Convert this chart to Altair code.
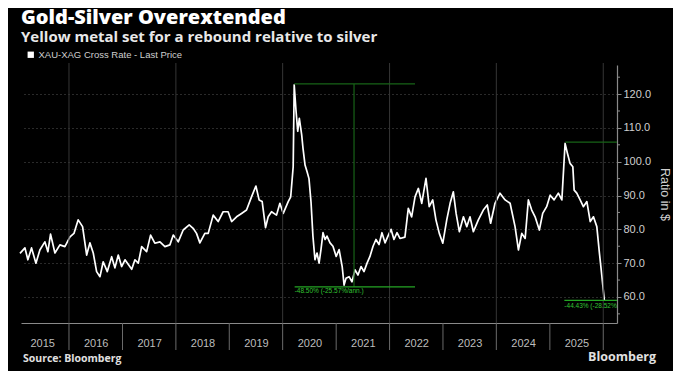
import altair as alt
import pandas as pd

# ---------------- data ----------------
dates = [
    "2015-01-31", "2015-03-06", "2015-03-26", "2015-04-20", "2015-05-20", "2015-06-16", "2015-07-20",
    "2015-08-10", "2015-08-28", "2015-09-27", "2015-10-31", "2015-12-04",
    "2016-01-08", "2016-02-04", "2016-03-04", "2016-04-03", "2016-05-01", "2016-05-23", "2016-06-15",
    "2016-07-08", "2016-07-31", "2016-08-22", "2016-09-19", "2016-10-19", "2016-11-10", "2016-12-03",
    "2016-12-26",
    "2017-01-18", "2017-03-05", "2017-03-27", "2017-04-19", "2017-05-12", "2017-06-15", "2017-07-12",
    "2017-08-10", "2017-09-14", "2017-10-18", "2017-11-21", "2017-12-14",
    "2018-01-17", "2018-02-20", "2018-04-02", "2018-04-29", "2018-05-22", "2018-06-14", "2018-07-18",
    "2018-08-10", "2018-09-13", "2018-10-17", "2018-11-20", "2018-12-24",
    "2019-01-17", "2019-02-20", "2019-03-26", "2019-04-29", "2019-06-02", "2019-07-02", "2019-07-24",
    "2019-08-14", "2019-09-06", "2019-09-24", "2019-10-17", "2019-11-20", "2019-12-13",
    "2020-01-05", "2020-02-08", "2020-02-25", "2020-03-13", "2020-03-20", "2020-04-01", "2020-04-13",
    "2020-04-24", "2020-05-10", "2020-05-19", "2020-06-02", "2020-06-16", "2020-06-29", "2020-07-13",
    "2020-07-26", "2020-08-09", "2020-08-23", "2020-09-06", "2020-09-19", "2020-10-03", "2020-10-17",
    "2020-10-30", "2020-11-20", "2020-12-10",
    "2021-01-01", "2021-01-21", "2021-02-11", "2021-02-24", "2021-03-09", "2021-03-30", "2021-04-19",
    "2021-05-10", "2021-05-30", "2021-06-20", "2021-07-10", "2021-07-31", "2021-08-20", "2021-09-10",
    "2021-09-30", "2021-10-21", "2021-11-10", "2021-12-01", "2021-12-21",
    "2022-01-11", "2022-01-31", "2022-02-21", "2022-03-13", "2022-04-16", "2022-05-09", "2022-06-01",
    "2022-06-24", "2022-07-17", "2022-08-09", "2022-09-07", "2022-09-29", "2022-10-23", "2022-11-14",
    "2022-12-07", "2022-12-31",
    "2023-01-27", "2023-02-19", "2023-03-13", "2023-04-01", "2023-04-23", "2023-05-21", "2023-06-13",
    "2023-07-05", "2023-07-28", "2023-08-31", "2023-10-04", "2023-10-31", "2023-11-23", "2023-12-23",
    "2024-01-26", "2024-03-01", "2024-04-04", "2024-05-08", "2024-05-31", "2024-06-23", "2024-07-16",
    "2024-08-07", "2024-08-30", "2024-09-22", "2024-10-21", "2024-11-13", "2024-12-10",
    "2025-01-03", "2025-01-30", "2025-02-28", "2025-03-24", "2025-04-15", "2025-05-01", "2025-05-19",
    "2025-06-07", "2025-06-16", "2025-07-04", "2025-07-27", "2025-08-18", "2025-09-11", "2025-10-04",
    "2025-10-26", "2025-11-18", "2025-12-06", "2025-12-23", "2026-01-08",
]
ratio = [
    72.9, 74.5, 71.0, 74.5, 70.0, 73.9, 76.3,
    73.4, 78.6, 73.0, 75.4, 74.9,
    77.8, 78.8, 82.8, 80.8, 72.4, 76.0, 73.0,
    67.5, 66.0, 70.4, 67.5, 71.9, 68.6, 72.4,
    69.0,
    71.0, 68.2, 71.0, 70.0, 74.9, 73.4, 78.3,
    75.9, 76.3, 74.9, 75.4, 78.3,
    76.3, 79.8, 81.3, 80.3, 78.8, 76.0, 78.8,
    78.8, 84.2, 82.3, 85.2, 85.2,
    82.3, 83.7, 84.7, 85.7, 89.6, 92.8, 88.7,
    88.2, 80.5, 83.7, 85.2, 84.2, 87.7,
    84.7, 88.2, 89.6, 98.5, 122.7, 115.3, 109.0,
    112.8, 108.0, 104.0, 99.0, 97.0, 95.0, 88.0,
    78.0, 71.0, 73.0, 70.0, 74.0, 79.0, 77.0,
    78.0, 76.0, 75.0,
    72.0, 74.0, 69.0, 63.5, 65.5, 66.0, 64.5,
    68.0, 66.5, 69.0, 67.5, 70.0, 72.0, 75.0,
    77.0, 75.5, 79.0, 76.0, 78.0,
    80.0, 77.0, 79.0, 77.3, 77.7, 86.2, 83.7,
    89.6, 92.1, 87.7, 95.1, 86.7, 88.7, 82.8,
    78.8, 75.9,
    82.8, 87.7, 91.1, 84.7, 79.3, 83.7, 80.8,
    83.7, 79.3, 82.8, 85.7, 87.2, 81.8, 87.7,
    90.7, 88.7, 87.7, 80.8, 73.9, 78.8, 77.3,
    88.7, 85.7, 83.7, 79.8, 84.7, 86.7,
    90.1, 88.7, 90.7, 88.7, 105.4, 102.5, 99.5,
    98.5, 91.6, 90.7, 88.7, 86.7, 88.2, 82.3,
    83.7, 80.8, 72.9, 66.0, 59.1,
]
series_name = "XAU-XAG Cross Rate - Last Price"

label_years = [2015, 2016, 2017, 2018, 2019, 2020, 2021, 2022, 2023, 2024, 2025]
year_bounds = ["2016-01-01", "2017-01-01", "2018-01-01", "2019-01-01", "2020-01-01", "2021-01-01",
               "2022-01-01", "2023-01-01", "2024-01-01", "2025-01-01", "2026-01-01"]
grid_years = ["2016-01-01", "2018-01-01", "2020-01-01", "2022-01-01", "2024-01-01", "2026-01-01"]
y_ticks = [60, 70, 80, 90, 100, 110, 120]
minor_ticks = [55, 65, 75, 85, 95, 105, 115, 125]

# annotation segments (Bloomberg measure tool)
seg_x = ["2020-03-20", "2021-05-03", "2020-03-23", "2025-04-16", "2025-04-10"]
seg_x2 = ["2022-06-24", "2021-05-03", "2022-06-24", "2026-04-05", "2026-04-05"]
seg_y = [123.0, 123.0, 63.0, 105.8, 59.0]
seg_y2 = [123.0, 63.0, 63.0, 105.8, 59.0]
seg_kind = ["top", "top", "bottom", "top", "bottom"]

note_text = ["-48.50% (-25.57%/ann.)", "-44.43% (-28.52%/ann.)"]
note_x = ["2020-03-23", "2025-04-10"]
note_y = [61.7, 57.4]

source_text = ["Source: Bloomberg"]
brand_text = ["Bloomberg"]

# ---------------- chart ----------------
W, H = 596, 258
FONT = "Liberation Sans"

line_df = pd.DataFrame({"date": dates, "ratio": ratio, "series": series_name})
bounds_df = pd.DataFrame({"date": year_bounds})
grid_df = pd.DataFrame({"date": grid_years})
minor_df = pd.DataFrame({"ratio": minor_ticks})
seg_df = pd.DataFrame({"date": seg_x, "x2": seg_x2, "ratio": seg_y, "y2": seg_y2, "kind": seg_kind})
note_df = pd.DataFrame({"date": note_x, "ratio": note_y, "t": note_text})

xscale = alt.Scale(
    type="utc",
    domain=[alt.DateTime(year=2015, month=2, date=7, utc=True),
            alt.DateTime(year=2026, month=4, date=5, utc=True)],
)
yscale = alt.Scale(domain=[52.3, 128.6], zero=False, nice=False)

X_AXIS = alt.Axis(
    values=[alt.DateTime(year=y, month=7, date=2, utc=True) for y in label_years],
    format="%Y", title=None, ticks=False, grid=False,
    domainColor="#8a8a8a", domainWidth=1.2,
    labelColor="#bdbdbd", labelFontSize=11, labelFont=FONT, labelPadding=14,
    labelFlush=False, labelOverlap=False,
)
Y_AXIS = alt.Axis(
    orient="right", values=y_ticks, format=".1f",
    title="Ratio in $", titleAngle=90, titleColor="#cfcfcf", titleFontSize=12.5,
    titleFontWeight="normal", titleFont=FONT, titlePadding=7,
    labelColor="#cfcfcf", labelFontSize=11, labelFont=FONT, labelPadding=2,
    tickSize=4, tickColor="#8a8a8a", domainColor="#8a8a8a", domainWidth=1.2,
    grid=True, gridColor="#555555", gridDash=[1, 3], gridWidth=1,
)

def X(field="date"):
    return alt.X(f"{field}:T", scale=xscale, axis=X_AXIS, title=None)

def Y(field="ratio"):
    return alt.Y(f"{field}:Q", scale=yscale, axis=Y_AXIS, title="Ratio in $")

grid_v = alt.Chart(grid_df).mark_rule(color="#363636", strokeWidth=1).encode(
    x=X(), y=alt.value(-2), y2=alt.value(H),
)

separators = alt.Chart(bounds_df).mark_rule(color="#6a6a6a", strokeWidth=1).encode(
    x=X(), y=alt.value(H), y2=alt.value(H + 27),
)

line = alt.Chart(line_df).mark_line(strokeWidth=1.7, strokeJoin="round").encode(
    x=X(), y=Y(),
    color=alt.Color("series:N", scale=alt.Scale(domain=[series_name], range=["#ffffff"]),
                    legend=alt.Legend(
                        orient="none", legendX=5, legendY=-15, title=None,
                        symbolType="square", symbolSize=40, symbolFillColor="#ffffff",
                        symbolStrokeColor="#ffffff", symbolStrokeWidth=0,
                        labelColor="#cfcfcf", labelFontSize=9.5, labelFont=FONT, labelOffset=3,
                    )),
)

minor = alt.Chart(minor_df).mark_rule(color="#8a8a8a", strokeWidth=1).encode(
    y=Y(), x=alt.value(W), x2=alt.value(W + 3),
)

seg_top = alt.Chart(seg_df).transform_filter(alt.datum.kind == "top").mark_rule(
    color="#176317", strokeWidth=1.2).encode(
    x=X(), x2="x2:T", y=Y(), y2="y2:Q",
)
seg_bottom = alt.Chart(seg_df).transform_filter(alt.datum.kind == "bottom").mark_rule(
    color="#24a524", strokeWidth=1.2).encode(
    x=X(), x2="x2:T", y=Y(), y2="y2:Q",
)

notes = alt.Chart(note_df).mark_text(
    align="left", baseline="middle", fontSize=6.5, font=FONT, color="#33c233", clip=True,
).encode(x=X(), y=Y(), text="t:N")

source = alt.Chart(pd.DataFrame({"t": source_text})).mark_text(
    align="left", baseline="middle", fontSize=10.5, fontWeight="bold", font="Open Sans", color="#e0e0e0",
).encode(text="t:N", x=alt.value(2), y=alt.value(H + 36))

brand = alt.Chart(pd.DataFrame({"t": brand_text})).mark_text(
    align="left", baseline="middle", fontSize=12.5, fontWeight="bold", font="Open Sans", color="#e0e0e0",
).encode(text="t:N", x=alt.value(567), y=alt.value(H + 34))

chart = alt.layer(
    line, grid_v, separators, seg_top, seg_bottom, minor, notes, source, brand
).properties(
    width=W, height=H,
    title=alt.TitleParams(
        text="Gold-Silver Overextended",
        subtitle="Yellow metal set for a rebound relative to silver",
        anchor="start", frame="group",
        font="Open Sans", fontSize=20, fontWeight=800, color="#ffffff",
        subtitleFont="Open Sans", subtitleFontSize=15, subtitleFontWeight=700,
        subtitleColor="#e8e8e8", subtitlePadding=2, offset=5,
    ),
    autosize=alt.AutoSizeParams(type="none"),
    padding={"left": 13, "top": 57, "right": 56, "bottom": 48},
    background="#000000",
).configure_view(stroke=None)

chart.save("out.html", embed_options={"renderer": "svg", "actions": False})
